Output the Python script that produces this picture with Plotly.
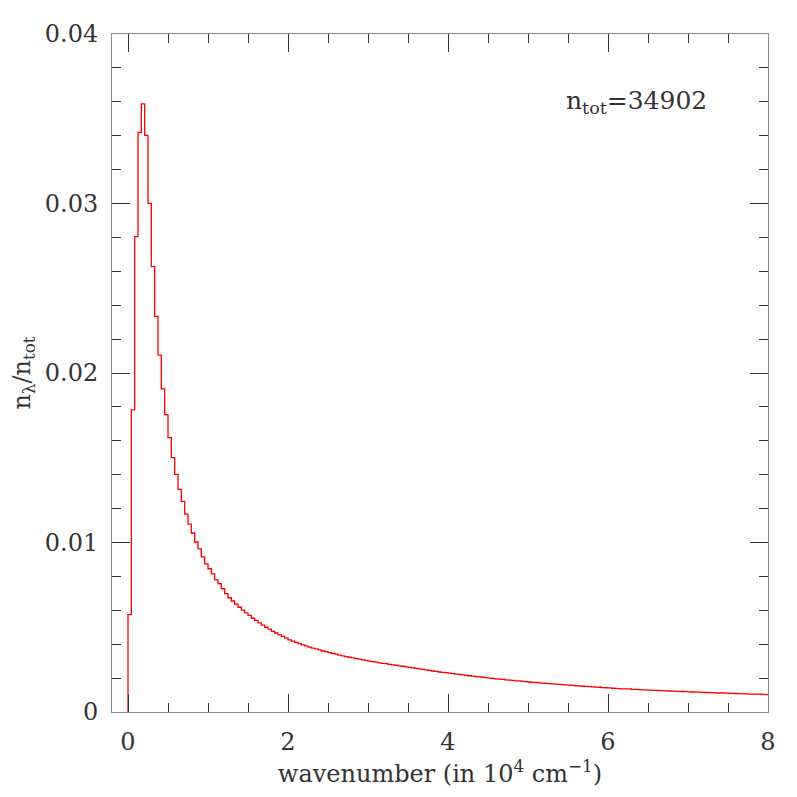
import numpy as np
import plotly.graph_objects as go

# histogram of wavenumbers, bins of 1/24 (in 10^4 cm^-1)
bin_width = 1.0 / 24
x_max = 8.0
n_tot = 34902

frac = [
    0.00575, 0.01783, 0.02804, 0.03419, 0.03588, 0.03402, 0.03001, 0.02628,
    0.02334, 0.02106, 0.01906, 0.01754, 0.01619, 0.01501, 0.01402, 0.01314,
    0.01243, 0.01167, 0.01108, 0.01056, 0.01003, 0.00962, 0.00915, 0.00874,
    0.00845, 0.00815, 0.00780, 0.00757, 0.00727, 0.00698, 0.00674,
    # 1.29 ->
    0.00655, 0.00636, 0.00618, 0.00601, 0.00585, 0.00570, 0.00553, 0.00541,
    0.00526, 0.00513, 0.00500, 0.00489, 0.00476, 0.00466, 0.00455, 0.00446,
    0.00436, 0.00426, 0.00418, 0.00411, 0.00403, 0.00396, 0.00390, 0.00383,
    0.00377, 0.00372, 0.00366, 0.00360, 0.00356, 0.00350, 0.00345, 0.00341,
    0.00336, 0.00331, 0.00327, 0.00323, 0.00319, 0.00315, 0.00312, 0.00307,
    0.00304, 0.00300, 0.00297, 0.00294, 0.00290, 0.00287, 0.00285, 0.00281,
    0.00278, 0.00275, 0.00272, 0.00270, 0.00266, 0.00263,
    # 3.5 ->
    0.00260, 0.00257, 0.00255, 0.00251, 0.00248, 0.00246, 0.00242, 0.00240,
    0.00236, 0.00234, 0.00232, 0.00229, 0.00226, 0.00224, 0.00222, 0.00219,
    0.00216, 0.00214, 0.00212, 0.00209, 0.00207, 0.00205, 0.00203, 0.00200,
    0.00198, 0.00196, 0.00194, 0.00192, 0.00190, 0.00188, 0.00186, 0.00184,
    0.00184, 0.00181, 0.00179, 0.00177, 0.00175, 0.00174, 0.00172, 0.00170,
    0.00169, 0.00167, 0.00166, 0.00164, 0.00163, 0.00162, 0.00160, 0.00158,
    0.00157, 0.00155, 0.00154, 0.00152, 0.00151, 0.00150, 0.00148, 0.00147,
    0.00146, 0.00144, 0.00143, 0.00142,
    # 6.0 ->
    0.00140, 0.00139, 0.00138, 0.00137, 0.00136, 0.00136, 0.00134, 0.00133,
    0.00132, 0.00131, 0.00130, 0.00129, 0.00128, 0.00127, 0.00126, 0.00126,
    0.00125, 0.00124, 0.00123, 0.00122, 0.00122, 0.00121, 0.00120, 0.00119,
    0.00118, 0.00117, 0.00117, 0.00116, 0.00115, 0.00114, 0.00114, 0.00113,
    0.00112, 0.00112, 0.00111, 0.00110, 0.00110, 0.00109, 0.00108, 0.00108,
    0.00107, 0.00106, 0.00106, 0.00105, 0.00105, 0.00104, 0.00103, 0.00103,
]

x_ticks = [0, 2, 4, 6, 8]
y_ticks = [0, 0.01, 0.02, 0.03, 0.04]
y_tick_text = ["0", "0.01", "0.02", "0.03", "0.04"]

# step outline: start at zero on the left edge, end at x_max
edges = np.arange(len(frac)) * bin_width
xs = [0.0] + list(edges) + [x_max]
ys = [0.0] + frac + [frac[-1]]

fig = go.Figure()
fig.add_trace(go.Scatter(x=xs, y=ys, mode="lines", line_shape="hv",
                         line=dict(color="red", width=1.3), showlegend=False))

font_name = "DejaVu Serif"
txt_col = "#333"
axis_style = dict(showline=True, linecolor="#888", linewidth=1, mirror="allticks",
                  ticks="inside", ticklen=18, tickwidth=1, tickcolor="#333",
                  showgrid=False, zeroline=False, ticklabelstandoff=8,
                  tickfont=dict(family=font_name, size=24, color=txt_col))

fig.update_xaxes(range=[-0.2, x_max], tickvals=x_ticks,
                 minor=dict(dtick=0.5, ticks="inside", ticklen=9, tickcolor="#333", tickwidth=1),
                 title=dict(text="wavenumber (in 10<sup>4</sup> cm<sup>−1</sup>)",
                            font=dict(family=font_name, size=24, color=txt_col), standoff=6),
                 **axis_style)
fig.update_yaxes(range=[0, 0.04], tickvals=y_ticks, ticktext=y_tick_text,
                 minor=dict(dtick=0.002, ticks="inside", ticklen=9, tickcolor="#333", tickwidth=1),
                 title=dict(text="n<sub>λ</sub>/n<sub>tot</sub>",
                            font=dict(family=font_name, size=24, color=txt_col), standoff=8),
                 **axis_style)

fig.add_annotation(x=0.91, y=0.9, xref="paper", yref="paper", xanchor="right", yanchor="middle",
                   text="n<sub>tot</sub>=%d" % n_tot, showarrow=False,
                   font=dict(family=font_name, size=25, color=txt_col))

fig.update_layout(width=797, height=797, plot_bgcolor="white", paper_bgcolor="white",
                  margin=dict(l=102, r=37, t=22, b=93))

fig.write_html("out.html")
